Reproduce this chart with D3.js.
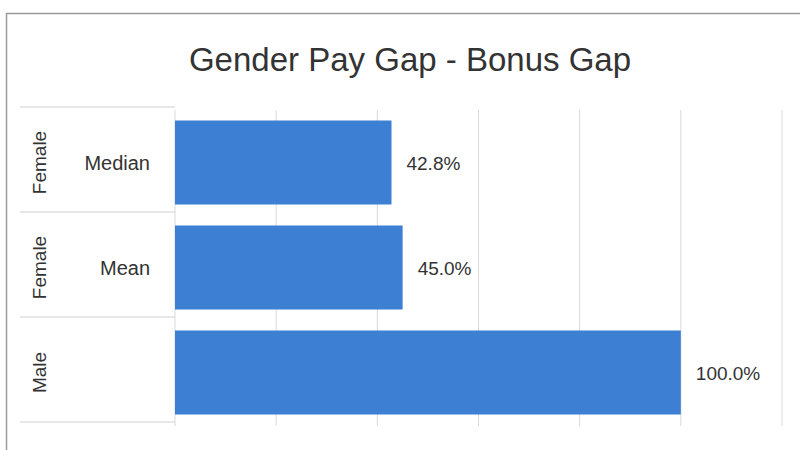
<!DOCTYPE html>
<meta charset="utf-8">
<style>
body { margin: 0; background: #fff; }
text { font-family: "Liberation Sans", Arial, sans-serif; fill: #333; }
.grid line { stroke: #d9d9d9; stroke-width: 1; }
.sep { stroke: #cfcfcf; stroke-width: 1; }
</style>
<script src="https://cdn.jsdelivr.net/npm/d3@7"></script>
<svg width="800" height="450"></svg>
<script>

// data
var outerLabels = ["Female", "Female", "Male"];
var innerLabels = ["Median", "Mean", ""];
var values = [0.428, 0.45, 1.0];
var ticks = [0, 0.2, 0.4, 0.6, 0.8, 1.0, 1.2];

var svg = d3.select("svg"),
    width = +svg.attr("width"),
    height = +svg.attr("height");

var rows = values.map(function(v, i) { return { i: i, value: v, outer: outerLabels[i], inner: innerLabels[i] }; });

var x = d3.scaleLinear()
    .domain([0, 1.2])
    .range([175, 782]);

var y = d3.scaleBand()
    .domain(rows.map(function(d) { return d.i; }))
    .range([110, 425])
    .paddingInner(0.2)
    .paddingOuter(0.1);

// chart border
svg.append("rect")
    .attr("x", 6.5).attr("y", 13.5)
    .attr("width", 820).attr("height", 460)
    .attr("fill", "none")
    .attr("stroke", "#9a9a9a")
    .attr("stroke-width", 1.5);

svg.append("text")
    .attr("x", 410)
    .attr("y", 71)
    .attr("text-anchor", "middle")
    .attr("font-size", 33)
    .attr("fill", "#1e1e1e")
    .text("Gender Pay Gap - Bonus Gap");

// gridlines
svg.append("g")
    .attr("class", "grid")
    .selectAll("line")
    .data(ticks)
    .enter().append("line")
    .attr("x1", function(d) { return x(d); })
    .attr("x2", function(d) { return x(d); })
    .attr("y1", 110)
    .attr("y2", 426);

// category separators (multi level axis)
var bounds = d3.range(rows.length + 1).map(function(k) { return 107 + k * 105; });
svg.append("g")
    .selectAll("line")
    .data(bounds)
    .enter().append("line")
    .attr("class", "sep")
    .attr("x1", 20)
    .attr("x2", 175)
    .attr("y1", function(d) { return d; })
    .attr("y2", function(d) { return d; });

var rowCenter = function(d) { return y(d.i) + y.bandwidth() / 2; };

svg.append("g")
    .selectAll("rect")
    .data(rows)
    .enter().append("rect")
    .attr("x", x(0))
    .attr("y", function(d) { return y(d.i); })
    .attr("width", function(d) { return x(d.value) - x(0); })
    .attr("height", y.bandwidth())
    .attr("fill", "#3d7fd3");

svg.append("g")
    .selectAll("text")
    .data(rows)
    .enter().append("text")
    .attr("x", function(d) { return x(d.value) + 15; })
    .attr("y", function(d) { return rowCenter(d) + 7; })
    .attr("font-size", 19)
    .text(function(d) { return d3.format(".1%")(d.value); });

svg.append("g")
    .selectAll("text")
    .data(rows)
    .enter().append("text")
    .attr("x", 150)
    .attr("y", function(d) { return rowCenter(d) + 7; })
    .attr("text-anchor", "end")
    .attr("font-size", 20)
    .text(function(d) { return d.inner; });

svg.append("g")
    .selectAll("text")
    .data(rows)
    .enter().append("text")
    .attr("transform", function(d) { return "translate(46," + rowCenter(d) + ") rotate(-90)"; })
    .attr("text-anchor", "middle")
    .attr("font-size", 19)
    .text(function(d) { return d.outer; });

</script>
